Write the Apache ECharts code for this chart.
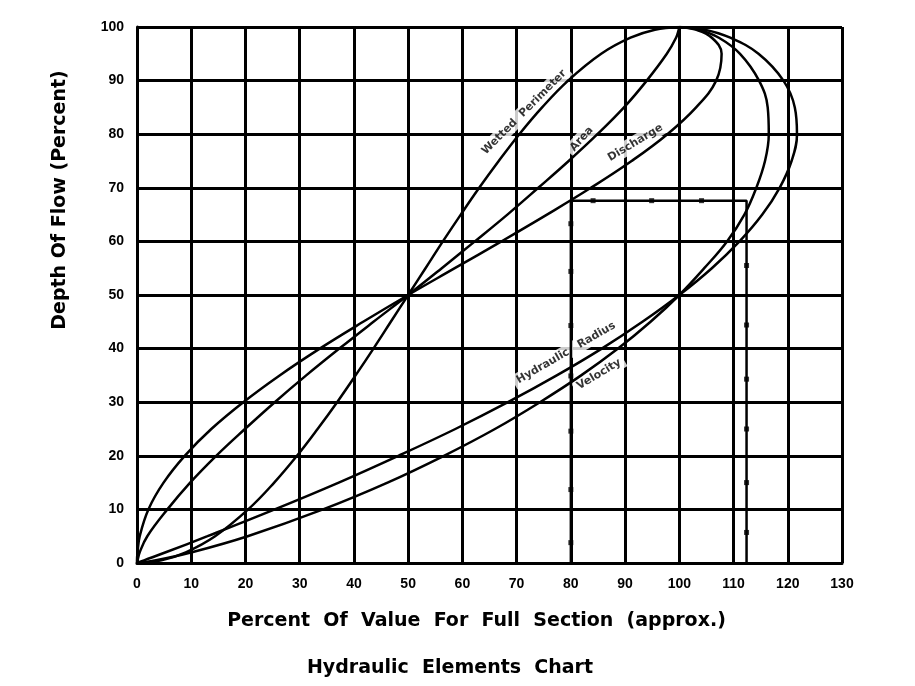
<!DOCTYPE html>
<html>
<head>
<meta charset="utf-8">
<title>Hydraulic Elements Chart</title>
<script src="https://cdn.jsdelivr.net/npm/echarts@6/dist/echarts.min.js"></script>
<style>
  html, body { margin: 0; padding: 0; background: #fff; }
  #chart { width: 915px; height: 686px; }
</style>
</head>
<body>
<div id="chart"></div>
<script>
// depth of flow (percent of full depth), shared by every curve
var depth = [0, 0.5, 2, 5, 10, 15, 20, 25, 30, 35, 40, 45, 50, 55, 60, 65, 70, 75, 80, 85, 90, 95, 98, 99.5, 100];

// percent of full-section value at each depth
var wettedPerimeter = [0, 4.5, 9.0, 14.4, 20.5, 25.3, 29.5, 33.3, 36.9, 40.3, 43.6, 46.8, 50, 53.2, 56.4, 59.7, 63.1, 66.7, 70.5, 74.7, 79.5, 85.6, 91.0, 95.5, 100];
var area = [0, 0.1, 0.5, 1.9, 5.6, 9.8, 14.6, 19.9, 25.4, 31.2, 37.3, 43.6, 50, 56.2, 62.3, 68.3, 74.0, 79.6, 84.9, 89.8, 94.0, 97.7, 99.4, 99.9, 100];
var discharge = [0, 0, 0.1, 0.5, 2.1, 4.9, 8.8, 13.7, 19.6, 26.3, 33.7, 41.7, 50, 58.6, 67.2, 75.6, 83.7, 91.2, 97.8, 103.1, 106.8, 107.8, 106.0, 103.0, 100];
var hydraulicRadius = [0, 1.3, 5.3, 13.0, 25.4, 37.2, 48.2, 58.7, 68.4, 77.4, 85.7, 93.2, 100, 106.0, 111.1, 115.3, 118.5, 120.7, 121.7, 121.3, 119.2, 114.6, 109.4, 104.7, 100];
var velocity = [0, 3.5, 10.1, 20.4, 34.3, 46.2, 56.6, 66.0, 74.3, 81.9, 88.7, 94.7, 100, 104.6, 108.8, 112.0, 114.2, 115.8, 116.5, 116.3, 114.7, 111.2, 107.3, 103.6, 100];

// worked example: 67.6% depth read across to the curves
var guideX = [80, 80, 112.4, 112.4];
var guideY = [0, 67.6, 67.6, 0];
var markerX = [80, 80, 80, 80, 80, 80, 80, 84.1, 94.9, 104.1, 112.4, 112.4, 112.4, 112.4, 112.4, 112.4];
var markerY = [3.8, 13.7, 24.6, 34.9, 44.3, 54.4, 63.3, 67.6, 67.6, 67.6, 55.5, 44.4, 34.3, 25, 15, 5.7];

// curve names written along the curves: text, x, y, angle
var curveNames = ['Wetted  Perimeter', 'Area', 'Discharge', 'Hydraulic   Radius', 'Velocity'];
var nameX = [71.4, 82.0, 91.9, 79.1, 85.2];
var nameY = [84.1, 79.1, 78.4, 39.2, 35.2];
var nameAngle = [45, 48, 31, 30, 31];

var xTicks = 10, yTicks = 10;

function pairs(xs, ys) {
    return xs.map(function (x, i) { return [x, ys[i]]; });
}

function curve(name, values) {
    return {
        name: name,
        type: 'line',
        z: 3,
        smooth: 0.4,
        symbol: 'none',
        lineStyle: { color: '#000', width: 2.5 },
        data: pairs(values, depth)
    };
}

var myChart = echarts.init(document.getElementById('chart'));

myChart.setOption({
    animation: false,
    backgroundColor: '#fff',
    grid: { left: 137, right: 73, top: 27, bottom: 123 },
    xAxis: {
        type: 'value',
        min: 0,
        max: 130,
        interval: xTicks,
        name: 'Percent  Of  Value  For  Full  Section  (approx.)',
        nameLocation: 'middle',
        nameGap: 49,
        nameTextStyle: {
            color: '#000', fontFamily: 'DejaVu Sans', fontWeight: 'bold', fontSize: 19,
            padding: [0, 26, 0, 0]
        },
        axisLine: { lineStyle: { color: '#000', width: 3 } },
        axisTick: { show: false },
        axisLabel: { color: '#000', fontFamily: 'Liberation Sans', fontWeight: 'bold', fontSize: 14, margin: 14 },
        splitLine: { show: true, lineStyle: { color: '#000', width: 3 } }
    },
    yAxis: {
        type: 'value',
        min: 0,
        max: 100,
        interval: yTicks,
        axisLine: { show: true, lineStyle: { color: '#000', width: 3 } },
        axisTick: { show: false },
        axisLabel: { color: '#000', fontFamily: 'Liberation Sans', fontWeight: 'bold', fontSize: 14, margin: 13 },
        splitLine: { show: true, lineStyle: { color: '#000', width: 3 } }
    },
    graphic: [
        {
            type: 'text', x: 60, y: 200, rotation: Math.PI / 2,
            style: {
                text: 'Depth Of Flow (Percent)', fill: '#000',
                font: 'bold 19px "DejaVu Sans"', align: 'center', verticalAlign: 'middle'
            }
        },
        {
            type: 'text', x: 450, y: 668,
            style: {
                text: 'Hydraulic  Elements  Chart', fill: '#000',
                font: 'bold 19px "DejaVu Sans"', align: 'center', verticalAlign: 'middle'
            }
        }
    ],
    series: [
        curve('Wetted Perimeter', wettedPerimeter),
        curve('Area', area),
        curve('Discharge', discharge),
        curve('Hydraulic Radius', hydraulicRadius),
        curve('Velocity', velocity),
        {
            name: 'guide',
            type: 'line',
            z: 4,
            symbol: 'none',
            lineStyle: { color: '#000', width: 2.5 },
            data: pairs(guideX, guideY)
        },
        {
            name: 'guide marks',
            type: 'scatter',
            z: 4,
            symbol: 'rect',
            symbolSize: 5,
            itemStyle: { color: '#000' },
            data: pairs(markerX, markerY)
        },
        {
            name: 'curve names',
            type: 'scatter',
            z: 1,
            symbolSize: 0,
            itemStyle: { color: '#000' },
            label: {
                show: true,
                position: 'inside',
                color: '#000',
                textBorderWidth: 0,
                fontFamily: 'DejaVu Sans',
                fontWeight: 'bold',
                fontSize: 11,
                backgroundColor: '#fff',
                padding: [2, 4]
            },
            data: curveNames.map(function (n, i) {
                return {
                    value: [nameX[i], nameY[i]],
                    label: { formatter: n, rotate: nameAngle[i] }
                };
            })
        }
    ]
});
</script>
</body>
</html>
